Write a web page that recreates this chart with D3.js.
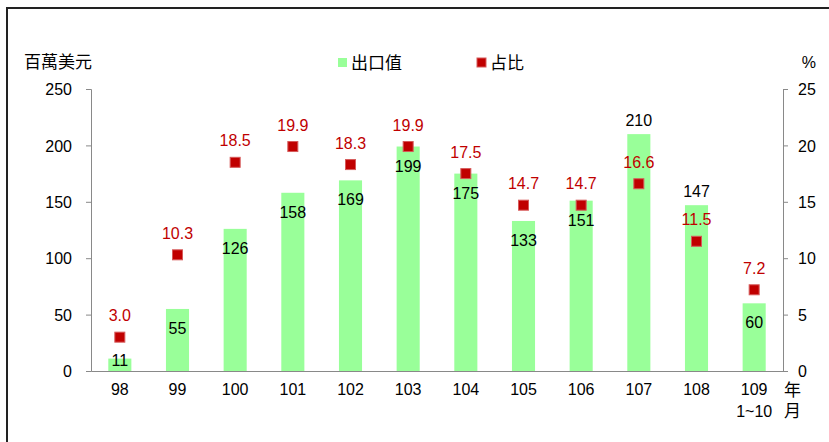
<!DOCTYPE html>
<html>
<head>
<meta charset="utf-8">
<script src="https://cdn.jsdelivr.net/npm/d3@7"></script>
<style>
  body { margin: 0; background: #fff; }
  text { font-family: "Liberation Sans", Arial, "Noto Sans CJK TC", sans-serif; }
  .cjk { font-family: "Liberation Sans", "Noto Sans CJK TC", sans-serif; }
</style>
</head>
<body>
<div id="chart-area"></div>
<script>
// data
const years = ["98", "99", "100", "101", "102", "103", "104", "105", "106", "107", "108", "109"]
const exportValue = [11, 55, 126, 158, 169, 199, 175, 133, 151, 210, 147, 60]
const share = [3.0, 10.3, 18.5, 19.9, 18.3, 19.9, 17.5, 14.7, 14.7, 16.6, 11.5, 7.2]
// where the bar value label sits: inside the bar top or above it
const valueLabelPos = ["in", "in", "in", "in", "in", "in", "in", "in", "in", "out", "out", "in"]
const leftTicks = [0, 50, 100, 150, 200, 250]
const rightTicks = [0, 5, 10, 15, 20, 25]

const W = 829, H = 442
const MARGIN = { LEFT: 91, RIGHT: 46, TOP: 89, BOTTOM: 71 }
const WIDTH = W - MARGIN.LEFT - MARGIN.RIGHT
const HEIGHT = H - MARGIN.TOP - MARGIN.BOTTOM

const GREEN = "#99ff99"
const RED = "#c00000"
const AXIS = "#898989"
const CJK_SIZE = 17

const svg = d3.select("#chart-area").append("svg")
  .attr("width", W)
  .attr("height", H)

// outer frame
svg.append("path")
  .attr("d", `M7,${H} V8 H${W}`)
  .attr("fill", "none")
  .attr("stroke", "#222")
  .attr("stroke-width", 2)

const g = svg.append("g")
  .attr("transform", `translate(${MARGIN.LEFT}, ${MARGIN.TOP})`)

// scales
const x = d3.scaleBand().domain(years).range([0, WIDTH]).paddingInner(0.6).paddingOuter(0.3)
const xc = d => x(d) + x.bandwidth() / 2
const y = d3.scaleLinear().domain([0, 250]).range([HEIGHT, 0])
const y2 = d3.scaleLinear().domain([0, 25]).range([HEIGHT, 0])

// bars
g.selectAll(".bar")
  .data(years)
  .enter().append("rect")
  .attr("class", "bar")
  .attr("x", d => x(d))
  .attr("width", x.bandwidth())
  .attr("y", (d, i) => y(exportValue[i]))
  .attr("height", (d, i) => HEIGHT - y(exportValue[i]))
  .attr("fill", GREEN)

// axes
const yAxis = g.append("g")
  .call(d3.axisLeft(y).tickValues(leftTicks).tickSize(5).tickPadding(14))
const y2Axis = g.append("g")
  .attr("transform", `translate(${WIDTH}, 0)`)
  .call(d3.axisRight(y2).tickValues(rightTicks).tickSize(5).tickPadding(10))
const xAxis = g.append("g")
  .attr("transform", `translate(0, ${HEIGHT})`)
  .call(d3.axisBottom(x).tickSize(0).tickPadding(13))

for (const ax of [yAxis, y2Axis, xAxis]) {
  ax.select(".domain").attr("stroke", AXIS)
  ax.selectAll(".tick line").attr("stroke", AXIS)
  ax.selectAll("text").attr("font-size", 16).attr("fill", "#000")
    .style("font-family", "'Liberation Sans', Arial, sans-serif")
}
yAxis.selectAll(".tick text").attr("dy", "0.35em")
y2Axis.selectAll(".tick text").attr("dy", "0.35em")

// extra lines under last category
g.append("text")
  .attr("x", xc("109"))
  .attr("y", HEIGHT + 46)
  .attr("text-anchor", "middle")
  .attr("font-size", 16)
  .text("1~10")
g.append("text").attr("class", "cjk")
  .attr("x", WIDTH + 1)
  .attr("y", HEIGHT + 25)
  .attr("font-size", CJK_SIZE)
  .text("年")
g.append("text").attr("class", "cjk")
  .attr("x", WIDTH + 1)
  .attr("y", HEIGHT + 46)
  .attr("font-size", CJK_SIZE)
  .text("月")

// bar value labels
g.selectAll(".val")
  .data(years)
  .enter().append("text")
  .attr("class", "val")
  .attr("x", d => xc(d))
  .attr("y", (d, i) => {
    const top = y(exportValue[i])
    if (valueLabelPos[i] === "out") return top - 8
    return Math.min(top + 25, HEIGHT - 5)
  })
  .attr("text-anchor", "middle")
  .attr("font-size", 16)
  .attr("fill", "#000")
  .text((d, i) => exportValue[i])

// share markers
g.selectAll(".mark")
  .data(years)
  .enter().append("rect")
  .attr("class", "mark")
  .attr("x", d => xc(d) - 5)
  .attr("y", (d, i) => y2(share[i]) - 5)
  .attr("width", 10)
  .attr("height", 10)
  .attr("fill", RED)
  .attr("stroke", "#d65a5a")
  .attr("stroke-width", 1)

g.selectAll(".pct")
  .data(years)
  .enter().append("text")
  .attr("class", "pct")
  .attr("x", d => xc(d))
  .attr("y", (d, i) => y2(share[i]) - 16)
  .attr("text-anchor", "middle")
  .attr("font-size", 16)
  .attr("fill", RED)
  .text((d, i) => share[i].toFixed(1))

// axis titles
svg.append("text").attr("class", "cjk")
  .attr("x", 24).attr("y", 68)
  .attr("font-size", CJK_SIZE)
  .text("百萬美元")
svg.append("text")
  .attr("x", 816).attr("y", 68)
  .attr("text-anchor", "end")
  .attr("font-size", 16)
  .text("%")

// legend
const legend = svg.append("g")
legend.append("rect").attr("x", 338).attr("y", 58).attr("width", 9).attr("height", 9).attr("fill", GREEN)
legend.append("text").attr("class", "cjk").attr("x", 351).attr("y", 69).attr("font-size", CJK_SIZE).text("出口值")
legend.append("rect").attr("x", 477).attr("y", 58).attr("width", 9).attr("height", 9)
  .attr("fill", RED).attr("stroke", "#d65a5a")
legend.append("text").attr("class", "cjk").attr("x", 490).attr("y", 69).attr("font-size", CJK_SIZE).text("占比")
</script>
</body>
</html>
